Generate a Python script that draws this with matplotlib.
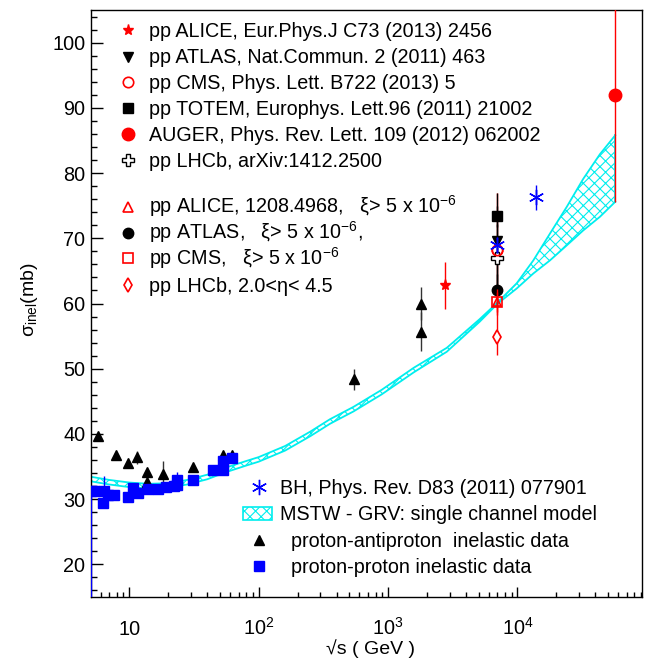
import numpy as np
import matplotlib
matplotlib.use('Agg')
import matplotlib.pyplot as plt
from matplotlib.patches import Rectangle
from matplotlib.ticker import FixedLocator, MultipleLocator, LogLocator, NullFormatter

plt.rcParams['font.family'] = ['Liberation Sans', 'DejaVu Sans']
plt.rcParams['mathtext.fontset'] = 'custom'
plt.rcParams['mathtext.rm'] = 'Liberation Sans'
plt.rcParams['mathtext.it'] = 'Liberation Sans:italic'
plt.rcParams['mathtext.bf'] = 'Liberation Sans:bold'
plt.rcParams['hatch.linewidth'] = 0.8

# ---------------- data ----------------
# proton-antiproton inelastic data
x_ppbar = [5.7, 7.9, 9.8, 11.5, 13.7, 13.7, 18.1, 30.9, 52.7, 52.7, 62.5, 546, 1800, 1800]
y_ppbar = [39.7, 36.7, 35.6, 36.4, 34.1, 32.7, 33.9, 34.9, 36.7, 35.6, 36.7, 48.4, 60.0, 55.7]
e_ppbar = [0.3, 0.3, 0.3, 1.0, 0.3, 0.3, 1.9, 0.3, 0.3, 0.3, 0.3, 1.6, 2.6, 3.0]

# proton-proton inelastic data
x_pp = [5.02, 5.37, 6.22, 6.41, 6.81, 7.66, 9.72, 10.6, 11.6, 13.9, 16.6, 19.2, 22.3,
        23.2, 23.2, 30.9, 44.6, 52.7, 52.7, 62.5]
y_pp = [31.2, 31.2, 29.4, 31.2, 30.7, 30.7, 30.4, 31.7, 30.9, 31.5, 31.6, 31.9, 32.0,
        32.9, 32.2, 33.0, 34.4, 34.4, 35.8, 36.3]
e_pp_lo = [17.0, 0.5, 0.5, 1.2, 0.5, 0.5, 0.5, 0.5, 0.5, 0.5, 0.5, 0.5, 0.5,
           1.5, 0.5, 0.5, 0.5, 0.5, 0.5, 0.5]
e_pp_hi = [0.0, 0.5, 0.5, 2.3, 0.5, 0.5, 0.5, 0.5, 0.5, 0.5, 0.5, 0.5, 0.5,
           1.2, 0.5, 0.5, 0.5, 0.5, 0.5, 0.5]

# BH prediction
x_bh = [7000, 14000]
y_bh = [69.0, 76.3]
e_bh = [1.2, 1.9]

# LHC / AUGER measurements
alice_x, alice_y, alice_e = [2760], [62.8], [3.6]
atlas_x, atlas_y, atlas_e = [7000], [69.6], [7.3]
cms_x, cms_y, cms_e = [7000], [68.2], [8.8]
totem_x, totem_y, totem_e = [7000], [73.4], [1.6]
auger_x, auger_y, auger_lo, auger_hi = [57000], [91.9], [16.4], [17.0]
lhcb_x, lhcb_y, lhcb_e = [7000], [66.9], [5.3]
alice2_x, alice2_y, alice2_e = [7000], [60.2], [2.0]
atlas2_x, atlas2_y, atlas2_e = [7000], [62.0], [2.5]
cms2_x, cms2_y, cms2_e = [7000], [60.2], [1.5]
lhcb2_x, lhcb2_y, lhcb2_lo, lhcb2_hi = [7000], [54.9], [2.8], [4.6]

# MSTW - GRV single channel model band
m_x = [5, 7, 10, 14, 20, 28, 40, 56, 80, 100, 160, 250, 355, 540, 890, 1580, 2840,
       5100, 7000, 9860, 13250, 17800, 24000, 32200, 43400, 57000]
m_lo = [32.75, 32.25, 31.85, 31.65, 31.75, 32.25, 33.05, 34.15, 35.15, 35.75, 37.45,
        39.65, 41.55, 43.45, 46.05, 49.45, 52.6, 57.2, 59.95, 62.3, 64.6, 66.6, 68.9,
        71.2, 73.3, 75.6]
m_hi = [33.45, 32.95, 32.55, 32.35, 32.45, 32.95, 33.75, 34.85, 35.85, 36.45, 38.15,
        40.35, 42.25, 44.15, 46.75, 50.15, 53.2, 57.6, 60.15, 63.1, 66.6, 70.7, 74.8,
        79.1, 82.9, 85.8]

xtick_vals = [10, 100, 1000, 10000]
xtick_labels = ['10', r'$\mathregular{10^{2}}$', r'$\mathregular{10^{3}}$', r'$\mathregular{10^{4}}$']
ytick_vals = [20, 30, 40, 50, 60, 70, 80, 90, 100]

top_labels = ["pp ALICE, Eur.Phys.J C73 (2013) 2456",
              "pp ATLAS, Nat.Commun. 2 (2011) 463",
              "pp CMS, Phys. Lett. B722 (2013) 5",
              "pp TOTEM, Europhys. Lett.96 (2011) 21002",
              "AUGER, Phys. Rev. Lett. 109 (2012) 062002",
              "pp LHCb, arXiv:1412.2500",
              "pp ALICE, 1208.4968,   ξ> 5 x 10$^{-6}$",
              "pp ATLAS,   ξ> 5 x 10$^{-6}$,",
              "pp CMS,   ξ> 5 x 10$^{-6}$",
              "pp LHCb, 2.0<η< 4.5"]
bot_labels = ["BH, Phys. Rev. D83 (2011) 077901",
              "MSTW - GRV: single channel model",
              "proton-antiproton  inelastic data",
              "proton-proton inelastic data"]

# ---------------- figure ----------------
CYAN = '#00eeee'
RED = '#ff0000'
BLUE = '#0000ff'
LFS = 14.2

fig = plt.figure(figsize=(6.51, 6.62), dpi=100)
ax = fig.add_axes([90.7 / 651, 65 / 662, 551 / 651, 587 / 662])
ax.set_xscale('log')
ax.set_xlim(5.03, 91200)
ax.set_ylim(15, 105)

# model band
ax.fill_between(m_x, m_lo, m_hi, facecolor='none', edgecolor=CYAN, hatch='xxx', lw=0, zorder=1)
ax.plot(m_x, m_lo, color=CYAN, lw=1.3, zorder=1.5)
ax.plot(m_x, m_hi, color=CYAN, lw=1.3, zorder=1.5)
ax.plot([m_x[-1], m_x[-1]], [m_lo[-1], m_hi[-1]], color=CYAN, lw=1.3, zorder=1.5)

eb = dict(capsize=0, elinewidth=1.0, ls='none')

# low energy data
ax.errorbar(x_ppbar, y_ppbar, yerr=e_ppbar, fmt='^', color='black', ms=7, ecolor='#333333', zorder=3, **eb)
ax.errorbar(x_pp, y_pp, yerr=[e_pp_lo, e_pp_hi], fmt='s', color=BLUE, ms=7.2, zorder=3, **eb)

# 7 TeV cluster & others
ax.errorbar(cms_x, cms_y, yerr=cms_e, fmt='o', mfc='white', mec=RED, ecolor=RED, ms=7.5, mew=1.2, zorder=4, **eb)
ax.errorbar(lhcb2_x, lhcb2_y, yerr=[lhcb2_lo, lhcb2_hi], fmt='d', mfc='white', mec=RED, ecolor=RED, ms=7, mew=1.2, zorder=4, **eb)
ax.errorbar(atlas_x, atlas_y, yerr=atlas_e, fmt='v', color='black', ms=7.5, zorder=4.1, **eb)
ax.errorbar(atlas2_x, atlas2_y, yerr=atlas2_e, fmt='o', color='black', ms=7.5, zorder=4.1, **eb)
ax.errorbar(totem_x, totem_y, yerr=totem_e, fmt='s', color='black', ms=6.5, zorder=4.2, **eb)
ax.errorbar(lhcb_x, lhcb_y, yerr=lhcb_e, fmt='P', mfc='white', mec='black', ecolor='black', ms=8, mew=1.0, zorder=4.2, **eb)
ax.errorbar(cms_x, cms_y, fmt='o', mfc='none', mec=RED, ms=7.5, mew=1.2, zorder=4.3, ls='none')
ax.errorbar(cms2_x, cms2_y, yerr=cms2_e, fmt='s', mfc='none', mec=RED, ecolor=RED, ms=7.5, mew=1.2, zorder=4.3, **eb)
ax.errorbar(alice2_x, alice2_y, yerr=alice2_e, fmt='^', mfc='none', mec=RED, ecolor=RED, ms=5.5, mew=1.2, zorder=4.3, **eb)
ax.errorbar(x_bh, y_bh, yerr=e_bh, fmt='none', ecolor=BLUE, zorder=4.4, capsize=0, elinewidth=1.0)
ax.plot(x_bh, y_bh, ls='none', marker=(6, 2, 0), ms=11, mec=BLUE, mew=1.0, zorder=4.5)
ax.errorbar(alice_x, alice_y, yerr=alice_e, fmt='*', color=RED, ms=8, zorder=4, **eb)
ax.errorbar(auger_x, auger_y, yerr=[auger_lo, auger_hi], fmt='o', color=RED, ms=9, zorder=4, **eb)

# ---------------- axes styling ----------------
for s in ax.spines.values():
    s.set_linewidth(1.0)
ax.xaxis.set_major_locator(FixedLocator(xtick_vals))
ax.set_xticklabels(xtick_labels)
ax.xaxis.set_minor_locator(LogLocator(base=10, subs=np.arange(2, 10)))
ax.xaxis.set_minor_formatter(NullFormatter())
ax.yaxis.set_major_locator(FixedLocator(ytick_vals))
ax.yaxis.set_minor_locator(MultipleLocator(2))
ax.tick_params(which='both', direction='in', top=False, right=False)
ax.tick_params(axis='y', which='major', length=8.5, width=1, labelsize=14.3, pad=4)
ax.tick_params(axis='y', which='minor', length=4.5, width=1)
ax.tick_params(axis='x', which='major', length=7, width=1, labelsize=14.3, pad=27.5)
ax.tick_params(axis='x', which='minor', length=3.5, width=1)
for t in ax.get_xticklabels():
    t.set_verticalalignment('baseline')

ax.set_ylabel('σ$_{\\mathregular{inel}}$(mb)', fontsize=14)
ax.yaxis.set_label_coords(-0.092, 0.506)
ax.set_xlabel('√s ( GeV )', fontsize=14)
ax.xaxis.set_label_coords(0.507, -0.072)

# ---------------- legends ----------------
top_styles = [dict(marker='*', color=RED, ms=8),
              dict(marker='v', color='black', ms=7.5),
              dict(marker='o', mfc='white', mec=RED, ms=7.5, mew=1.2),
              dict(marker='s', color='black', ms=6.5),
              dict(marker='o', color=RED, ms=9),
              dict(marker='P', mfc='white', mec='black', ms=8, mew=1.0),
              dict(marker='^', mfc='white', mec=RED, ms=7.5, mew=1.2),
              dict(marker='o', color='black', ms=7.5),
              dict(marker='s', mfc='white', mec=RED, ms=7.5, mew=1.2),
              dict(marker='d', mfc='white', mec=RED, ms=7, mew=1.2)]
top_rows = [30, 56.7, 82, 108, 134.3, 160, 206.7, 232.7, 258.3, 285]
for lab, st, py in zip(top_labels, top_styles, top_rows):
    fy = (597 - py) / 587
    ax.plot([(128 - 90.7) / 551], [fy], transform=ax.transAxes, clip_on=False, ls='none', **st)
    ax.text((149 - 90.7) / 551, fy - 0.0112, lab, transform=ax.transAxes, fontsize=LFS, va='baseline', ha='left')

bot_rows = [487.3, 513.3, 540, 566]
mx_frac = (258.7 - 90.7) / 551
fy = (597 - bot_rows[0]) / 587
ax.plot([mx_frac], [fy], transform=ax.transAxes, ls='none', marker=(6, 2, 0), ms=11, mec=BLUE, mew=1.0)
ax.text((280 - 90.7) / 551, fy - 0.0112, bot_labels[0], transform=ax.transAxes, fontsize=LFS, va='baseline')
fy = (597 - bot_rows[1]) / 587
ax.add_patch(Rectangle(((242.7 - 90.7) / 551, fy - 0.0107), 29 / 551, 0.0215, transform=ax.transAxes,
                       facecolor='none', edgecolor=CYAN, hatch='xxx', lw=1.2))
ax.text((280 - 90.7) / 551, fy - 0.0112, bot_labels[1], transform=ax.transAxes, fontsize=LFS, va='baseline')
fy = (597 - bot_rows[2]) / 587
ax.plot([mx_frac], [fy], transform=ax.transAxes, ls='none', marker='^', color='black', ms=7)
ax.text((291 - 90.7) / 551, fy - 0.0112, bot_labels[2], transform=ax.transAxes, fontsize=LFS, va='baseline')
fy = (597 - bot_rows[3]) / 587
ax.plot([mx_frac], [fy], transform=ax.transAxes, ls='none', marker='s', color=BLUE, ms=7.2)
ax.text((291 - 90.7) / 551, fy - 0.0112, bot_labels[3], transform=ax.transAxes, fontsize=LFS, va='baseline')

fig.savefig('out.png', dpi=100)
